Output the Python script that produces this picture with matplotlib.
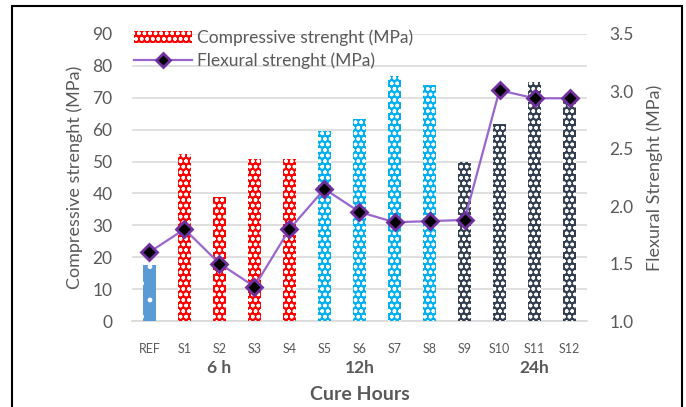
import matplotlib
matplotlib.use("Agg")
import matplotlib.pyplot as plt
from matplotlib.patches import Rectangle, Patch
from matplotlib.lines import Line2D

plt.rcParams['font.family'] = ['Lato', 'DejaVu Sans']
plt.rcParams['hatch.linewidth'] = 1.0

categories = ["REF", "S1", "S2", "S3", "S4", "S5", "S6", "S7", "S8", "S9", "S10", "S11", "S12"]
compressive = [17.6, 52.4, 38.9, 50.8, 50.8, 59.6, 63.3, 76.8, 74.0, 49.8, 61.8, 75.0, 71.5]
flexural = [1.60, 1.80, 1.50, 1.30, 1.80, 2.15, 1.95, 1.86, 1.87, 1.88, 3.01, 2.94, 2.94]
groups = ["6 h", "12h", "24h"]
group_centers = [2, 6, 11]

bar_colors = ["#5B9BD5"] + ["#FF0000"] * 4 + ["#00B0F0"] * 4 + ["#333F50"] * 4
bar_hatches = ["."] + ["ooo"] * 12

fig = plt.figure(figsize=(6.86, 4.07), dpi=100)
ax = fig.add_axes([0.1924, 0.2113, 0.6633, 0.7052])
ax2 = ax.twinx()
ax.set_zorder(1)
ax2.set_zorder(2)
ax.patch.set_visible(False)

x = list(range(len(categories)))
for xi, v, c, h in zip(x, compressive, bar_colors, bar_hatches):
    ax.bar(xi, v, width=0.36, color=c, edgecolor="white", linewidth=0, hatch=h, zorder=3)

ax.set_xlim(-0.5, 12.5)
ax.set_ylim(0, 90)
ax.set_yticks(range(0, 91, 10))
ax.yaxis.grid(True, color="#D9D9D9", linewidth=1.2, zorder=0)
ax.set_axisbelow(True)
for s in ["top", "right", "left"]:
    ax.spines[s].set_visible(False)
ax.spines["bottom"].set_color("#D9D9D9")
ax.spines["bottom"].set_linewidth(1.2)
ax.tick_params(axis="y", length=0, labelsize=12.5, labelcolor="#595959", pad=14)
ax.tick_params(axis="x", length=0, labelsize=9, labelcolor="#595959", pad=16)
ax.set_xticks(x)
ax.set_xticklabels(categories)
ax.set_ylabel("Compressive strenght (MPa)", fontsize=13, color="#595959", labelpad=7)

ax2.plot(x, flexural, color="#9966CC", linewidth=1.6, marker="D", markersize=8,
         markerfacecolor="black", markeredgecolor="#7030A0", markeredgewidth=2, zorder=5)
ax2.set_ylim(1.0, 3.5)
ax2.set_yticks([1.0, 1.5, 2.0, 2.5, 3.0, 3.5])
ax2.set_yticklabels(["1.0", "1.5", "2.0", "2.5", "3.0", "3.5"])
for s in ["top", "right", "left", "bottom"]:
    ax2.spines[s].set_visible(False)
ax2.tick_params(axis="y", length=0, labelsize=12.5, labelcolor="#595959", pad=16)
ax2.set_ylabel("Flexural Strenght (MPa)", fontsize=13, color="#595959", labelpad=9)

for g, gc in zip(groups, group_centers):
    ax.text(gc, -0.165, g, transform=ax.get_xaxis_transform(), ha="center", va="center",
            fontsize=12.5, fontweight="bold", color="#595959")
ax.text(0.5, -0.255, "Cure Hours", transform=ax.transAxes, ha="center", va="center",
        fontsize=14, fontweight="bold", color="#595959")

handles = [Patch(facecolor="#FF0000", edgecolor="white", linewidth=0, hatch="ooo"),
           Line2D([0], [0], color="#9966CC", linewidth=1.6, marker="D", markersize=7,
                  markerfacecolor="black", markeredgecolor="#7030A0", markeredgewidth=2)]
leg = ax2.legend(handles, ["Compressive strenght (MPa)", "Flexural strenght (MPa)"],
                 loc="upper left", bbox_to_anchor=(-0.01, 1.04), frameon=False,
                 fontsize=12.5, labelcolor="#595959", handlelength=3.3, handletextpad=0.3,
                 borderaxespad=0, labelspacing=0.35)

fig.add_artist(Rectangle((12 / 686, -0.05), 670 / 686, 1 - 6 / 407 + 0.05,
                         transform=fig.transFigure, fill=False, edgecolor="black", linewidth=1.5))

fig.savefig("out.png", dpi=100)
